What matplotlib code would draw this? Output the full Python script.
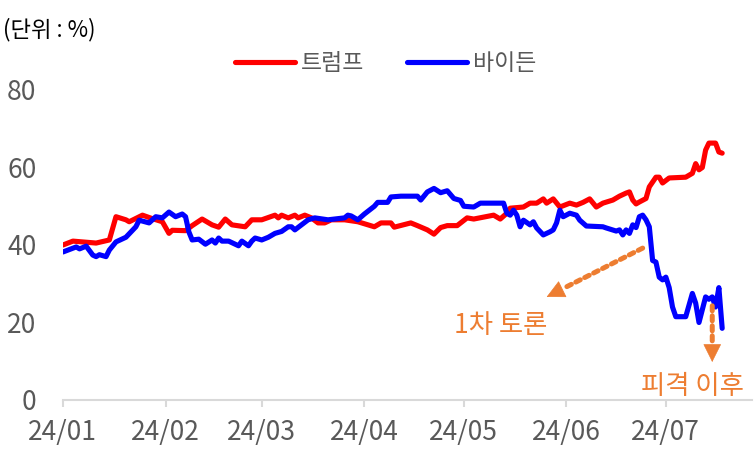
import pandas as pd
import matplotlib.pyplot as plt
import matplotlib.dates as mdates

plt.rcParams['font.family'] = ['Noto Sans CJK KR', 'DejaVu Sans']

# 트럼프 지지율 (%)
trump_dates = ['2024-01-01', '2024-01-04', '2024-01-11', '2024-01-15', '2024-01-17', '2024-01-20',
               '2024-01-21', '2024-01-25', '2024-01-28', '2024-01-31', '2024-02-02', '2024-02-03',
               '2024-02-07', '2024-02-09', '2024-02-12', '2024-02-15', '2024-02-17', '2024-02-19',
               '2024-02-21', '2024-02-25', '2024-02-27', '2024-03-01', '2024-03-05', '2024-03-06',
               '2024-03-07', '2024-03-09', '2024-03-11', '2024-03-12', '2024-03-14', '2024-03-16',
               '2024-03-18', '2024-03-20', '2024-03-22', '2024-03-26', '2024-03-30', '2024-04-04',
               '2024-04-06', '2024-04-09', '2024-04-10', '2024-04-15', '2024-04-17', '2024-04-20',
               '2024-04-22', '2024-04-24', '2024-04-26', '2024-04-29', '2024-05-02', '2024-05-04',
               '2024-05-10', '2024-05-12', '2024-05-14', '2024-05-15', '2024-05-19', '2024-05-21',
               '2024-05-23', '2024-05-25', '2024-05-26', '2024-05-28', '2024-05-30', '2024-06-02',
               '2024-06-04', '2024-06-06', '2024-06-08', '2024-06-10', '2024-06-12', '2024-06-15',
               '2024-06-17', '2024-06-19', '2024-06-20', '2024-06-21', '2024-06-22', '2024-06-23',
               '2024-06-25', '2024-06-26', '2024-06-28', '2024-06-29', '2024-06-30', '2024-07-02',
               '2024-07-07', '2024-07-09', '2024-07-10', '2024-07-11', '2024-07-12', '2024-07-13',
               '2024-07-14', '2024-07-16', '2024-07-17', '2024-07-18']
trump = [40, 41, 40.5, 41.3, 47.3, 46.5,
         46, 47.7, 46.8, 46, 43, 43.8,
         43.7, 45, 46.7, 45.2, 44.6, 46.7,
         45.2, 44.7, 46.5, 46.5, 47.7, 47,
         47.7, 47, 47.7, 47, 47.7, 47,
         45.7, 45.7, 46.5, 46.5, 46, 44.7,
         45.7, 45.7, 44.6, 45.7, 45, 43.9,
         42.8, 44.5, 45, 45, 47, 46.7,
         47.7, 46.7, 48.2, 49.5, 49.8, 50.8,
         50.8, 51.9, 50.8, 51.9, 49.8, 50.8,
         50.3, 51, 51.9, 49.8, 50.8, 51.6,
         52.6, 53.4, 53.7, 51.6, 50.6, 51.1,
         52, 55, 57.5, 57.5, 56, 57.3,
         57.5, 58.5, 61, 59.4, 60, 64.5,
         66.3, 66.3, 64, 63.7]

# 바이든 지지율 (%)
biden_dates = ['2024-01-01', '2024-01-05', '2024-01-06', '2024-01-08', '2024-01-10', '2024-01-11',
               '2024-01-12', '2024-01-14', '2024-01-15', '2024-01-17', '2024-01-20', '2024-01-23',
               '2024-01-24', '2024-01-27', '2024-01-29', '2024-01-31', '2024-02-02', '2024-02-04',
               '2024-02-06', '2024-02-07', '2024-02-08', '2024-02-09', '2024-02-11', '2024-02-13',
               '2024-02-15', '2024-02-16', '2024-02-17', '2024-02-18', '2024-02-20', '2024-02-23',
               '2024-02-24', '2024-02-26', '2024-02-27', '2024-02-28', '2024-03-01', '2024-03-03',
               '2024-03-05', '2024-03-07', '2024-03-09', '2024-03-10', '2024-03-11', '2024-03-13',
               '2024-03-15', '2024-03-17', '2024-03-21', '2024-03-26', '2024-03-27', '2024-03-28',
               '2024-03-30', '2024-04-01', '2024-04-04', '2024-04-05', '2024-04-08', '2024-04-09',
               '2024-04-12', '2024-04-17', '2024-04-18', '2024-04-20', '2024-04-22', '2024-04-24',
               '2024-04-26', '2024-04-28', '2024-04-30', '2024-05-01', '2024-05-04', '2024-05-06',
               '2024-05-13', '2024-05-14', '2024-05-15', '2024-05-16', '2024-05-17', '2024-05-18',
               '2024-05-19', '2024-05-21', '2024-05-22', '2024-05-23', '2024-05-25', '2024-05-27',
               '2024-05-28', '2024-05-29', '2024-05-30', '2024-05-31', '2024-06-02', '2024-06-04',
               '2024-06-05', '2024-06-07', '2024-06-12', '2024-06-13', '2024-06-16', '2024-06-17',
               '2024-06-18', '2024-06-19', '2024-06-20', '2024-06-21', '2024-06-22', '2024-06-23',
               '2024-06-24', '2024-06-25', '2024-06-26', '2024-06-27', '2024-06-28', '2024-06-29',
               '2024-06-30', '2024-07-01', '2024-07-02', '2024-07-03', '2024-07-04', '2024-07-07',
               '2024-07-09', '2024-07-10', '2024-07-11', '2024-07-13', '2024-07-14', '2024-07-15',
               '2024-07-16', '2024-07-17', '2024-07-18']
biden = [38.2, 39.5, 39, 39.7, 37.4, 37,
         37.5, 37, 38.7, 40.8, 42, 44.7,
         46.4, 45.7, 47.3, 47, 48.5, 47.3,
         48, 47.3, 43.4, 41.3, 41.5, 40.2,
         41.3, 40.5, 41.8, 41, 41, 39.8,
         41, 39.8, 41, 41.8, 41.3, 42,
         43, 43.5, 44.7, 44.7, 43.9, 45.2,
         46.5, 47, 46.5, 47, 47.7, 47.5,
         46.5, 48, 50, 51, 51, 52.4,
         52.6, 52.6, 51.6, 53.7, 54.6, 53.5,
         54, 52, 51.5, 50, 49.8, 50.8,
         50.8, 48.2, 47.7, 49, 47.7, 44.7,
         46.4, 45.2, 46, 44.4, 42.6, 43.4,
         43.9, 45.7, 49, 47.3, 48.2, 47.7,
         46.4, 44.9, 44.7, 44.4, 43.6, 43.9,
         42.6, 43.9, 43, 45.2, 44.5, 47.3,
         47.7, 46.5, 44.7, 36, 35.6, 31.7,
         31, 31.7, 29, 24, 21.5, 21.5,
         27.5, 25, 20, 26.6, 26, 26.6,
         24, 29, 18.5]

month_ticks = ['2024-01-01', '2024-02-01', '2024-03-01', '2024-04-01',
               '2024-05-01', '2024-06-01', '2024-07-01']
month_labels = ['24/01', '24/02', '24/03', '24/04', '24/05', '24/06', '24/07']

orange = '#ED7D31'
gray = '#595959'

fig = plt.figure(figsize=(7.56, 4.62), dpi=100)
ax = fig.add_axes([0.0833, 0.1342, 0.9114, 0.671])

ax.plot(pd.to_datetime(trump_dates), trump, color='#FF0000', lw=3.7, label='트럼프',
        solid_joinstyle='round', solid_capstyle='round')
ax.plot(pd.to_datetime(biden_dates), biden, color='#0000FF', lw=3.7, label='바이든',
        solid_joinstyle='round', solid_capstyle='round')

ax.set_xlim(pd.Timestamp('2024-01-01'), pd.Timestamp('2024-07-27'))
ax.set_ylim(0, 80)
ax.set_yticks([0, 20, 40, 60, 80])
ax.set_xticks(pd.to_datetime(month_ticks))
ax.set_xticklabels(month_labels)

for s in ['top', 'right', 'left']:
    ax.spines[s].set_visible(False)
ax.spines['bottom'].set_color('#D9D9D9')
ax.spines['bottom'].set_linewidth(1.5)
ax.tick_params(axis='x', colors='#D9D9D9', length=5, width=1.5, pad=9,
               labelsize=19, labelcolor=gray)
ax.tick_params(axis='y', length=0, pad=19, labelsize=19, labelcolor=gray)
for lab in ax.get_xticklabels() + ax.get_yticklabels():
    lab.set_fontweight('light')


def dotted_arrow(tip, start, head_off):
    # dotted shaft, then a solid triangle head
    ax.annotate('', xy=tip, xytext=start,
                arrowprops=dict(arrowstyle='-', color=orange, lw=3.6,
                                linestyle=(0, (1, 1)), shrinkA=0, shrinkB=13))
    ax.annotate('', xy=tip, xytext=head_off, textcoords='offset points',
                arrowprops=dict(arrowstyle='-|>', color=orange, lw=0.5,
                                mutation_scale=30, shrinkA=0, shrinkB=0))


d = mdates.date2num
dotted_arrow((d(pd.Timestamp('2024-05-26')), 26.6), (d(pd.Timestamp('2024-06-24')), 39.2),
             (10.8, 5.3))
ax.text(d(pd.Timestamp('2024-05-12')), 19.1, '1차 토론', color=orange, fontsize=19,
        ha='center', va='center')
dotted_arrow((d(pd.Timestamp('2024-07-15')), 9.8), (d(pd.Timestamp('2024-07-15')), 24.3),
             (0, 12))
ax.text(d(pd.Timestamp('2024-07-09')), 3.6, '피격 이후', color=orange, fontsize=19,
        ha='center', va='center', clip_on=False)

leg = ax.legend(loc='center', bbox_to_anchor=(0.51, 0.8615), bbox_transform=fig.transFigure,
                ncol=2, frameon=False, fontsize=16.5, handlelength=2.6, handletextpad=0.25,
                columnspacing=1.9)
for t in leg.get_texts():
    t.set_color(gray)

fig.text(0.004, 0.935, '(단위 : %)', fontsize=16, color='black', ha='left', va='center')

fig.savefig('out.png', dpi=100)
